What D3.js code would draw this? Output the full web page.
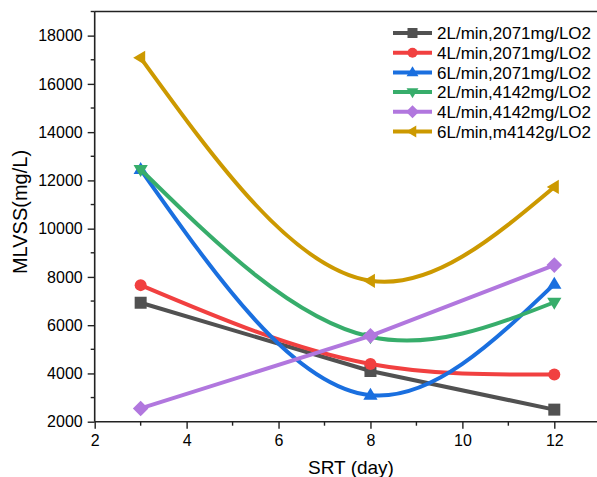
<!DOCTYPE html>
<html>
<head>
<meta charset="utf-8">
<script src="https://cdn.jsdelivr.net/npm/d3@7"></script>
<style>
  html, body { margin: 0; padding: 0; background: #fff; }
  svg { display: block; font-family: "Liberation Sans", Arial, sans-serif; }
</style>
</head>
<body>
<svg id="chart" width="597" height="477"></svg>
<script>
// SRT (day) sampled at three points
const srt = [3, 8, 12];

// MLVSS (mg/L) per aeration / oxygen condition
const s2L2071 = [6930, 4100, 2500];
const s4L2071 = [7660, 4390, 3960];
const s6L2071 = [12450, 3100, 7700];
const s2L4142 = [12450, 5520, 6950];
const s4L4142 = [2550, 5560, 8490];
const s6L4142 = [17080, 7840, 11730];

const seriesNames = [
  "2L/min,2071mg/LO2",
  "4L/min,2071mg/LO2",
  "6L/min,2071mg/LO2",
  "2L/min,4142mg/LO2",
  "4L/min,4142mg/LO2",
  "6L/min,m4142g/LO2"
];
const seriesValues = [s2L2071, s4L2071, s6L2071, s2L4142, s4L4142, s6L4142];
const seriesColors = ["#515151", "#F14040", "#1A6FDF", "#37AD6B", "#B177DE", "#CC9900"];
const seriesSymbols = ["square", "circle", "triUp", "triDown", "diamond", "triLeft"];
const seriesSmooth = [false, true, true, true, false, true];

const xTicks = [2, 4, 6, 8, 10, 12];
const yTicks = [2000, 4000, 6000, 8000, 10000, 12000, 14000, 16000, 18000];

const svg = d3.select("#chart");
const plotLeft = 94.7, plotBottom = 421.7, plotTop = 11.5;

const x = d3.scaleLinear().domain([2, 13]).range([plotLeft, plotLeft + 11 * 45.96]);
const y = d3.scaleLinear().domain([2000, 19000]).range([plotBottom, plotTop]);

// Natural cubic spline in y(x), emitted as Bezier segments
function curveSplineX(context) {
  let pts = [];
  return {
    areaStart() {}, areaEnd() {},
    lineStart() { pts = []; },
    point(px, py) { pts.push([+px, +py]); },
    lineEnd() {
      const n = pts.length;
      if (n === 0) return;
      context.moveTo(pts[0][0], pts[0][1]);
      if (n === 1) return;
      if (n === 2) { context.lineTo(pts[1][0], pts[1][1]); return; }
      const h = [], M = new Array(n).fill(0);
      for (let i = 0; i < n - 1; i++) h.push(pts[i + 1][0] - pts[i][0]);
      // tridiagonal system for interior second derivatives
      const a = [], b = [], c = [], d = [];
      for (let i = 1; i < n - 1; i++) {
        a.push(h[i - 1]); b.push(2 * (h[i - 1] + h[i])); c.push(h[i]);
        d.push(6 * ((pts[i + 1][1] - pts[i][1]) / h[i] - (pts[i][1] - pts[i - 1][1]) / h[i - 1]));
      }
      const m = b.length;
      for (let i = 1; i < m; i++) {
        const w = a[i] / b[i - 1];
        b[i] -= w * c[i - 1]; d[i] -= w * d[i - 1];
      }
      const sol = new Array(m);
      sol[m - 1] = d[m - 1] / b[m - 1];
      for (let i = m - 2; i >= 0; i--) sol[i] = (d[i] - c[i] * sol[i + 1]) / b[i];
      for (let i = 0; i < m; i++) M[i + 1] = sol[i];
      for (let i = 0; i < n - 1; i++) {
        const [x0, y0] = pts[i], [x1, y1] = pts[i + 1], hi = h[i];
        const s = (y1 - y0) / hi;
        const d0 = s - hi * (2 * M[i] + M[i + 1]) / 6;
        const d1 = s + hi * (M[i] + 2 * M[i + 1]) / 6;
        context.bezierCurveTo(x0 + hi / 3, y0 + d0 * hi / 3, x1 - hi / 3, y1 - d1 * hi / 3, x1, y1);
      }
    }
  };
}

// Marker shapes
function symbolPath(kind, r) {
  const p = d3.path();
  if (kind === "square") { p.rect(-r, -r, 2 * r, 2 * r); }
  else if (kind === "circle") { p.arc(0, 0, r, 0, 2 * Math.PI); }
  else if (kind === "diamond") { const q = r * 1.3; p.moveTo(0, -q); p.lineTo(q, 0); p.lineTo(0, q); p.lineTo(-q, 0); p.closePath(); }
  else {
    const q = r * 1.25;
    let v;
    if (kind === "triUp") v = [[0, -q], [q * 0.95, q * 0.6], [-q * 0.95, q * 0.6]];
    else if (kind === "triDown") v = [[0, q], [q * 0.95, -q * 0.6], [-q * 0.95, -q * 0.6]];
    else v = [[-q, 0], [q * 0.6, -q * 0.95], [q * 0.6, q * 0.95]];
    p.moveTo(v[0][0], v[0][1]); p.lineTo(v[1][0], v[1][1]); p.lineTo(v[2][0], v[2][1]); p.closePath();
  }
  return p.toString();
}

// Frame top line
svg.append("line").attr("x1", plotLeft).attr("x2", 600).attr("y1", plotTop).attr("y2", plotTop)
  .attr("stroke", "#222").attr("stroke-width", 1.6);

// Axes
const xMinor = [3, 5, 7, 9, 11, 13];
const yMinor = d3.range(3000, 19001, 2000);

const xAxis = d3.axisBottom(x).tickValues(xTicks).tickFormat(d3.format("d")).tickSizeOuter(0).tickSize(7).tickPadding(6);
const gx = svg.append("g").attr("transform", `translate(0,${plotBottom})`).call(xAxis);
gx.append("g").selectAll("line").data(xMinor).join("line")
  .attr("x1", d => x(d)).attr("x2", d => x(d)).attr("y1", 0).attr("y2", 4);

const yAxis = d3.axisLeft(y).tickValues(yTicks).tickFormat(d3.format("d")).tickSizeOuter(0).tickSize(7).tickPadding(5);
const gy = svg.append("g").attr("transform", `translate(${plotLeft},0)`).call(yAxis);
gy.append("g").selectAll("line").data(yMinor).join("line")
  .attr("x1", 0).attr("x2", -4).attr("y1", d => y(d)).attr("y2", d => y(d));

[gx, gy].forEach(g => {
  g.select(".domain").attr("stroke", "#222").attr("stroke-width", 1.6);
  g.selectAll("line").attr("stroke", "#222").attr("stroke-width", 1.4);
  g.selectAll("text").attr("fill", "#000").style("font-size", "16px").style("font-family", "'Liberation Sans', Arial, sans-serif");
});
gy.select(".domain").attr("d", `M0,${plotBottom}V${plotTop}`);
gx.select(".domain").attr("d", `M${plotLeft},0H600`);

// Axis titles
svg.append("text").attr("x", 351).attr("y", 474).attr("text-anchor", "middle")
  .style("font-size", "19px").text("SRT (day)");
svg.append("text").attr("transform", "translate(26.5,212) rotate(-90)").attr("text-anchor", "middle")
  .style("font-size", "20px").text("MLVSS(mg/L)");

// Series lines and markers
seriesValues.forEach((vals, i) => {
  const pts = srt.map((s, j) => [s, vals[j]]);
  const line = d3.line().x(d => x(d[0])).y(d => y(d[1]))
    .curve(seriesSmooth[i] ? curveSplineX : d3.curveLinear);
  svg.append("path").attr("d", line(pts)).attr("fill", "none")
    .attr("stroke", seriesColors[i]).attr("stroke-width", 4).attr("stroke-linejoin", "round");
  svg.append("g").selectAll("path").data(pts).join("path")
    .attr("transform", d => `translate(${x(d[0])},${y(d[1])})`)
    .attr("d", symbolPath(seriesSymbols[i], 6))
    .attr("fill", seriesColors[i]);
});

// Legend
const lg = svg.append("g").attr("transform", "translate(393,33)");
seriesNames.forEach((name, i) => {
  const row = lg.append("g").attr("transform", `translate(0,${i * 19.7})`);
  row.append("line").attr("x1", 0).attr("x2", 39).attr("y1", 0).attr("y2", 0)
    .attr("stroke", seriesColors[i]).attr("stroke-width", 4);
  row.append("path").attr("transform", "translate(19.5,0)")
    .attr("d", symbolPath(seriesSymbols[i], 5)).attr("fill", seriesColors[i]);
  row.append("text").attr("x", 44).attr("y", 0).attr("dy", "0.36em")
    .style("font-size", "17px").text(name);
});
</script>
</body>
</html>
